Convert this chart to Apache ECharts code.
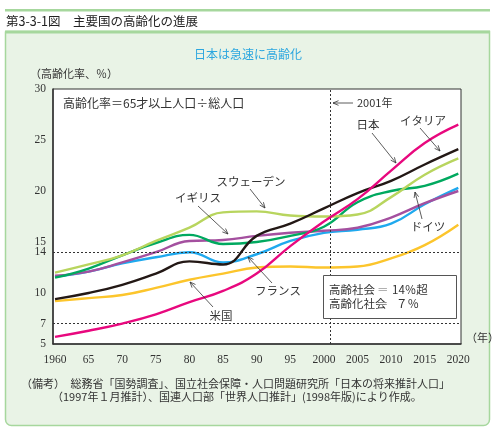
<!DOCTYPE html>
<html>
<head>
<meta charset="utf-8">
<script src="https://cdn.jsdelivr.net/npm/echarts@6/dist/echarts.min.js"></script>
<style>
html,body{margin:0;padding:0;background:#fff;}
#c{width:496px;height:431px;}
</style>
</head>
<body>
<div id="c"></div>
<script>
// ---- data ----
const years = [1960,1965,1970,1975,1980,1985,1990,1995,2000,2005,2010,2015,2020];
const japan   = [5.7,6.3,7.0,7.9,9.1,10.2,11.9,14.6,17.0,19.2,22.0,24.7,26.5];
const italy   = [9.4,10.0,10.8,11.9,13.1,12.8,15.6,16.8,18.3,19.8,21.0,22.6,24.1];
const sweden  = [12.0,12.8,13.7,15.1,16.4,17.9,18.0,17.6,17.5,17.7,19.4,21.6,23.2];
const germany = [11.5,12.4,13.7,14.9,15.7,14.8,15.0,15.6,16.5,18.9,20.0,20.5,21.7];
const uk      = [11.7,12.1,13.0,14.0,15.1,15.2,15.6,15.9,16.1,16.4,17.4,18.8,20.0];
const france  = [11.6,12.1,12.9,13.5,14.0,13.0,13.8,15.1,15.9,16.2,16.8,18.7,20.3];
const usa     = [9.2,9.5,9.8,10.5,11.3,11.9,12.5,12.6,12.5,12.6,13.4,14.7,16.7];
const xTicks = [1960,1965,1970,1975,1980,1985,1990,1995,2000,2005,2010,2015,2020];
const xTickLabels = ['1960','65','70','75','80','85','90','95','2000','2005','2010','2015','2020'];
const yTicks = [5,7,10,14,15,20,25,30];
const thresholds = [14,7];
const markYear = 2001;

const JP = '"Noto Sans CJK JP", "Noto Sans", sans-serif';
const SERIF = '"Liberation Serif", "DejaVu Serif", serif';

function pairs(vals){ return years.map((y,i)=>[y, vals[i]]); }

function arrow(x1,y1,x2,y2){
  const a = Math.atan2(y2-y1, x2-x1);
  const L = 6, w = 0.4;
  const p1 = [x2 - L*Math.cos(a-w), y2 - L*Math.sin(a-w)];
  const p2 = [x2 - L*Math.cos(a+w), y2 - L*Math.sin(a+w)];
  return [
    {type:'line', shape:{x1:x1,y1:y1,x2:x2,y2:y2}, style:{stroke:'#333', lineWidth:0.8}, z:50},
    {type:'polyline', shape:{points:[p1,[x2,y2],p2]}, style:{stroke:'#333', lineWidth:0.8, fill:null}, z:50}
  ];
}
function txt(x,y,s,opt){
  opt = opt||{};
  return {type:'text', z:60, style:Object.assign({x:x,y:y,text:s,font:(opt.size||11)+'px '+(opt.family||JP),
    fill:opt.color||'#333', textAlign:opt.align||'center', textVerticalAlign:'middle'}, opt.extra||{})};
}

const chart = echarts.init(document.getElementById('c'), null, {renderer:'canvas'});

const graphics = [
  {type:'rect', shape:{x:5,y:9,width:485,height:2.5}, style:{fill:'#a6d79d'}, z:0},
  txt(6,21,'第3-3-1図　主要国の高齢化の進展',{size:12.5,align:'left',color:'#222'}),
  {type:'rect', shape:{x:5.5,y:31.5,width:484,height:394,r:[0,0,6,6]}, style:{fill:'#e9f3e6', stroke:'#a6d79d', lineWidth:1.5}, z:-10},
  {type:'rect', shape:{x:5,y:30.5,width:485,height:3}, style:{fill:'#a6d79d'}, z:-9},
  {type:'rect', shape:{x:53,y:89,width:408,height:255}, style:{fill:'#ffffff'}, z:-8},
  txt(248,54,'日本は急速に高齢化',{size:12,color:'#2ba6df'}),
  txt(30,74,'（高齢化率、％）',{size:11,align:'left'}),
  txt(466,338,'（年）',{size:11,align:'left'}),
  txt(63,103,'高齢化率＝65才以上人口÷総人口',{size:12,align:'left'}),
  txt(357,103,'2001年',{size:11,align:'left'}),
  ...arrow(353,103,333,103),
  txt(368,125,'日本',{size:11.5}),
  ...arrow(372,133,396,163),
  txt(423,121,'イタリア',{size:11.5}),
  ...arrow(420,128,440,151),
  txt(251,182,'スウェーデン',{size:11.5}),
  ...arrow(250,189,265,208),
  txt(198,198,'イギリス',{size:11.5}),
  ...arrow(198,206,228,234),
  txt(428,227,'ドイツ',{size:11.5}),
  ...arrow(422,219,415,192),
  txt(278,291,'フランス',{size:11.5}),
  ...arrow(272,283,248,257),
  txt(221,316,'米国',{size:11.5}),
  ...arrow(213,307,190,282),
  {type:'rect', shape:{x:323.5,y:275.5,width:133,height:43}, style:{fill:'#fff', stroke:'#555', lineWidth:1}, z:40},
  txt(329,290,'高齢社会',{size:11.5,align:'left'}),
  txt(377,290,'＝',{size:11.5,align:'left',color:'#999'}),
  txt(392,290,'14％超',{size:11.5,align:'left'}),
  txt(329,304,'高齢化社会',{size:11.5,align:'left'}),
  txt(377,304,'＝',{size:11.5,align:'left',color:'#999'}),
  txt(396,304,'７％',{size:11.5,align:'left'}),
  txt(21,384,'（備考）　総務省「国勢調査」、国立社会保障・人口問題研究所「日本の将来推計人口」',{size:11,align:'left'}),
  txt(52,397,'（1997年１月推計）、国連人口部「世界人口推計」(1998年版)により作成。',{size:11,align:'left'})
];

function line(name, vals, color, z){
  return {name:name, type:'line', data:pairs(vals), smooth:0.45, showSymbol:false, symbol:'none',
    lineStyle:{color:color, width:2.4}, itemStyle:{color:color}, z:z, silent:true};
}

const series = [
  line('米国', usa, '#fcc52c', 2),
  line('フランス', france, '#1fa9ee', 3),
  line('イギリス', uk, '#a4509f', 4),
  line('ドイツ', germany, '#00a95f', 5),
  line('スウェーデン', sweden, '#b8d55e', 6),
  line('イタリア', italy, '#231815', 7),
  line('日本', japan, '#e8087e', 8)
];
series[0].markLine = {
  silent:true, symbol:'none', label:{show:false},
  lineStyle:{color:'#333', type:[2,2], width:1},
  data: thresholds.map(v=>({yAxis:v})).concat([{xAxis:markYear}])
};

chart.setOption({
  animation:false,
  backgroundColor:'#ffffff',
  grid:{left:53, top:89, width:408, height:255, show:true, borderColor:'#333', borderWidth:1, backgroundColor:'transparent'},
  xAxis:{type:'value', min:1959.7, max:2020.4,
    axisLine:{show:true, onZero:false, lineStyle:{color:'#333', width:1.5}},
    axisTick:{show:false}, splitLine:{show:false},
    axisLabel:{customValues:xTicks, formatter:(v)=>xTickLabels[xTicks.indexOf(v)] || '', color:'#333', fontFamily:SERIF, fontSize:11.5, margin:10}
  },
  yAxis:{type:'value', min:5, max:30,
    axisLine:{show:true, onZero:false, lineStyle:{color:'#333', width:1.5}},
    axisTick:{show:false}, splitLine:{show:false},
    axisLabel:{customValues:yTicks, color:'#333', fontFamily:SERIF, fontSize:11.5, margin:7}
  },
  graphic:graphics,
  series:series
});
</script>
</body>
</html>
